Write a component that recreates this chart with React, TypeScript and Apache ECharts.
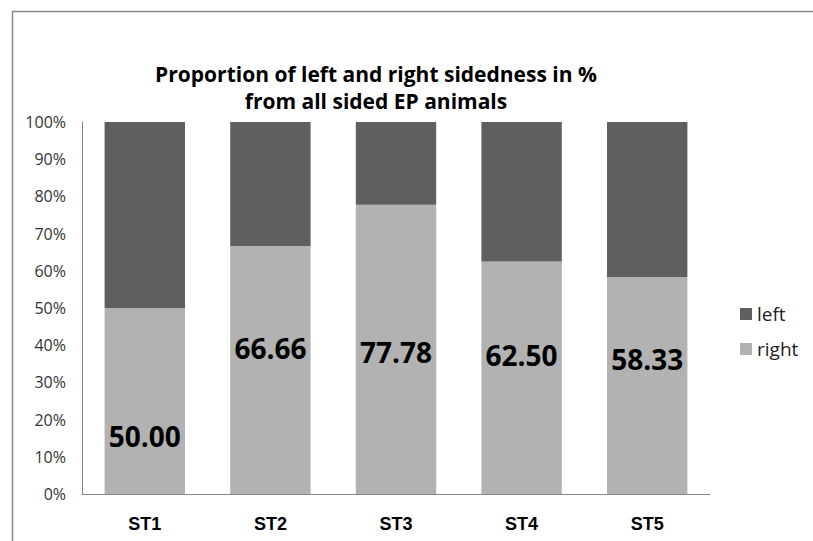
import React, { useEffect, useRef } from "react";
import * as echarts from "echarts";

const categories = ["ST1", "ST2", "ST3", "ST4", "ST5"];
const rightValues = [50.0, 66.66, 77.78, 62.5, 58.33];
const leftValues = [50.0, 33.34, 22.22, 37.5, 41.67];
const yTicks = [0, 10, 20, 30, 40, 50, 60, 70, 80, 90, 100];
const titleLines = [
  "Proportion of left and right sidedness in %",
  "from all sided EP animals",
];

// label vertical offsets (layout only)
const labelOffsets = [35, -22, 3, -23, -27];

export default function App() {
  const ref = useRef<HTMLDivElement>(null);
  useEffect(() => {
    document.body.style.margin = "0";
    const chart = echarts.init(ref.current!, null, { renderer: "svg" });
    const titleStyle = {
      fontFamily: "Open Sans",
      fontWeight: "bold",
      fontSize: 21,
      lineHeight: 24,
      color: "#000",
    };
    chart.setOption({
      animation: false,
      backgroundColor: "#ffffff",
      title: [
        { text: titleLines[0], left: 376, textAlign: "center", top: 62, padding: 0, textStyle: titleStyle },
        { text: titleLines[1], left: 376, textAlign: "center", top: 89, padding: 0, textStyle: titleStyle },
      ],
      legend: {
        orient: "vertical",
        left: 735,
        top: 298,
        itemWidth: 12,
        itemHeight: 12,
        itemGap: 13,
        icon: "rect",
        data: ["left", "right"],
        textStyle: { fontFamily: "Open Sans", fontSize: 19, lineHeight: 22, color: "#222" },
      },
      grid: { left: 82, right: 103, top: 122, bottom: 47, containLabel: false },
      xAxis: {
        type: "category",
        data: categories,
        axisLine: { lineStyle: { color: "#888", width: 1 } },
        axisTick: { show: false },
        axisLabel: {
          margin: 21,
          fontFamily: "Liberation Sans",
          fontWeight: "bold",
          fontSize: 18,
          color: "#000",
        },
      },
      yAxis: {
        type: "value",
        min: 0,
        max: 100,
        interval: 10,
        axisLine: { show: true, lineStyle: { color: "#888", width: 1 } },
        axisTick: { show: false },
        splitLine: { show: false },
        axisLabel: {
          margin: 16,
          fontFamily: "Open Sans",
          fontSize: 16,
          color: "#333",
          formatter: (v: number) => (yTicks.includes(v) ? v + "%" : ""),
        },
      },
      series: [
        {
          name: "right",
          type: "bar",
          stack: "total",
          barCategoryGap: "36%",
          itemStyle: { color: "#b2b2b2" },
          data: rightValues.map((v, i) => ({
            value: v,
            label: {
              show: true,
              position: "inside",
              offset: [0, labelOffsets[i]],
              formatter: (p: any) => Number(p.value).toFixed(2),
              fontFamily: "Open Sans",
              fontWeight: "bold",
              fontSize: 28,
              color: "#000",
            },
          })),
        },
        {
          name: "left",
          type: "bar",
          stack: "total",
          barCategoryGap: "36%",
          itemStyle: { color: "#5f5f5f" },
          data: leftValues,
        },
      ],
      graphic: [
        {
          type: "line",
          shape: { x1: 12, y1: 11.5, x2: 813, y2: 11.5 },
          style: { stroke: "#8a8a8a", lineWidth: 1.5 },
          silent: true,
        },
        {
          type: "line",
          shape: { x1: 12.5, y1: 11, x2: 12.5, y2: 541 },
          style: { stroke: "#8a8a8a", lineWidth: 1.5 },
          silent: true,
        },
      ],
    });
    return () => chart.dispose();
  }, []);
  return <div ref={ref} style={{ width: 813, height: 541 }} />;
}
